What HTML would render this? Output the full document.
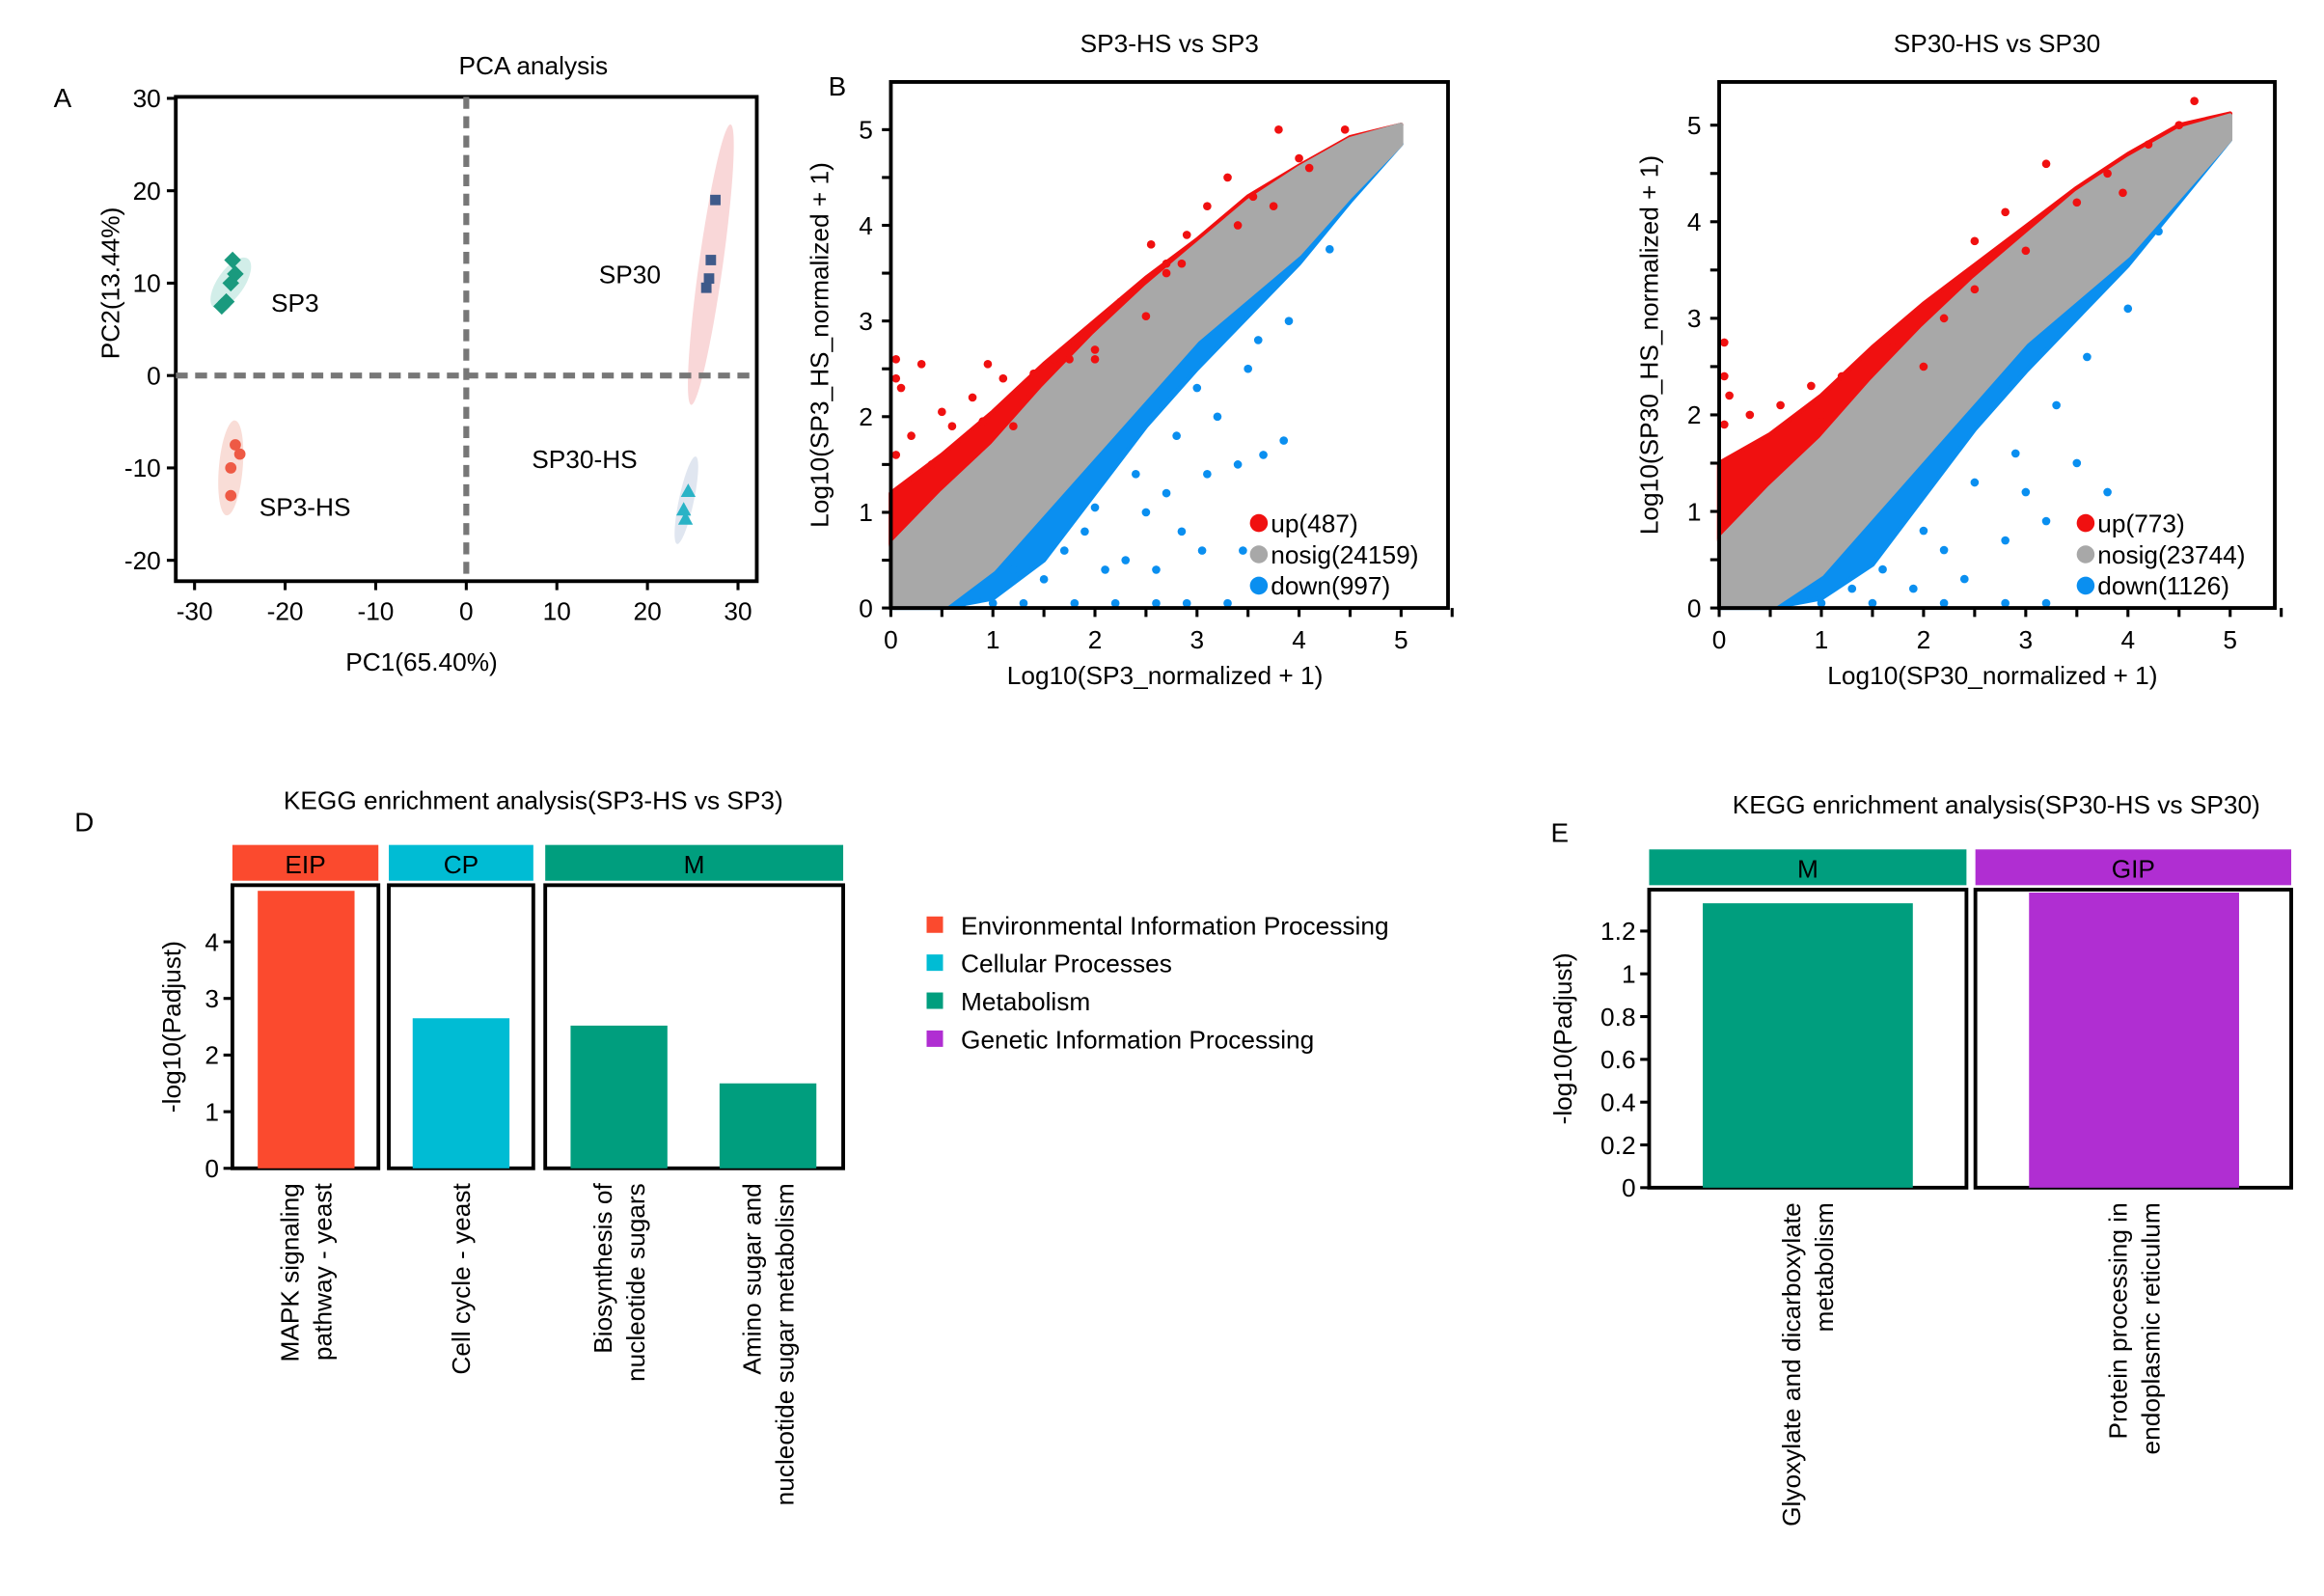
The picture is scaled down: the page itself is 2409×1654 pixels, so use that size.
<!DOCTYPE html>
<html><head><meta charset="utf-8"><style>
html,body{margin:0;padding:0;background:#fff}
svg{display:block;font-family:"Liberation Sans",Arial,sans-serif}
</style></head><body>
<svg id="root" xmlns="http://www.w3.org/2000/svg" width="2409" height="1654" viewBox="0 0 1560 1071" preserveAspectRatio="none">
<rect width="1560" height="1071" fill="#fff"/>
<g id="gA"></g>
<g id="gB"></g>
<g id="gC"></g>
<g id="gD"></g>
<g id="gE"></g>
</svg>
<script>
// ---------- PCA data ----------
const pcaGroups = ["SP3","SP3-HS","SP30","SP30-HS"];
const pcaSP3 = [[-26.5,8],[-27,7.5],[-25.5,11],[-25.8,12.5],[-26,10]];
const pcaSP3HS = [[-25.5,-7.5],[-25,-8.5],[-26,-10],[-26,-13]];
const pcaSP30 = [[27.5,19],[27,12.5],[26.8,10.5],[26.5,9.5]];
const pcaSP30HS = [[24.5,-12.5],[24,-14.5],[24.2,-15.5]];
const pcaTicksX = [-30,-20,-10,0,10,20,30];
const pcaTicksY = [-20,-10,0,10,20,30];
// ---------- Scatter data ----------
const bandX = [0,0.5,1,1.5,2,2.5,3,3.5,4,4.5,5];
const b_grayLo = [0,0,0.4,1.0,1.6,2.2,2.8,3.25,3.7,4.3,4.85];
const b_grayHi = [0.65,1.2,1.7,2.3,2.85,3.35,3.8,4.25,4.6,4.9,5.05];
const b_redHi = [1.2,1.6,2.05,2.55,3.0,3.45,3.85,4.3,4.62,4.92,5.05];
const b_blueLo = [0,0,0.1,0.5,1.2,1.9,2.5,3.05,3.6,4.25,4.85];
const b_redPts = [[0.05,2.6],[0.3,2.55],[0.95,2.55],[0.05,2.4],[0.1,2.3],[0.5,2.05],[0.8,2.2],[1.1,2.4],[1.4,2.45],[1.3,2.2],[1.6,2.6],[0.6,1.9],[0.2,1.8],[0.9,1.95],[1.75,2.6],[2.0,2.7],[2.25,3.2],[2.5,3.05],[2.55,3.8],[2.7,3.5],[2.85,3.6],[3.1,4.2],[3.3,4.5],[3.55,4.3],[3.8,5.0],[4.0,4.7],[4.1,4.6],[4.45,5.0],[3.75,4.2],[2.9,3.9],[2.7,3.6],[2.0,2.6],[3.4,4.0],[0.05,1.6],[0.05,1.2],[0.4,1.5],[1.2,1.9]];
const b_bluePts = [[3.65,1.6],[3.85,1.75],[3.4,1.5],[3.45,0.6],[3.05,0.6],[2.85,0.8],[2.6,0.4],[2.3,0.5],[1.9,0.8],[1.5,0.3],[3.3,0.05],[2.9,0.05],[2.6,0.05],[2.2,0.05],[1.8,0.05],[1.3,0.05],[1.0,0.05],[0.7,0.05],[4.3,3.75],[3.9,3.0],[2.0,1.05],[2.4,1.4],[2.8,1.8],[3.2,2.0],[3.5,2.5],[3.0,2.3],[2.5,1.0],[2.1,0.4],[1.7,0.6],[1.2,0.4],[2.7,1.2],[3.6,2.8],[3.1,1.4]];
const b_legend = ["up(487)","nosig(24159)","down(997)"];
const c_grayLo = [0,0,0.35,0.95,1.55,2.15,2.75,3.2,3.65,4.25,4.85];
const c_grayHi = [0.7,1.25,1.75,2.35,2.9,3.4,3.85,4.3,4.65,4.95,5.1];
const c_redHi = [1.5,1.8,2.2,2.7,3.15,3.55,3.95,4.35,4.7,5.0,5.12];
const c_blueLo = [0,0,0.1,0.45,1.15,1.85,2.45,3.0,3.55,4.2,4.85];
const c_redPts = [[0.05,2.75],[0.05,2.4],[0.1,2.2],[0.3,2.0],[0.6,2.1],[0.9,2.3],[1.2,2.4],[1.5,2.5],[1.9,2.9],[2.2,3.0],[2.5,3.3],[2.8,4.1],[3.2,4.6],[3.8,4.5],[4.2,4.8],[4.5,5.0],[4.65,5.25],[3.95,4.3],[2.5,3.8],[3.0,3.7],[3.5,4.2],[1.0,2.0],[0.4,1.7],[0.05,1.9],[1.7,2.7],[2.0,2.5]];
const c_bluePts = [[3.2,0.9],[2.8,0.7],[2.4,0.3],[1.9,0.2],[3.5,1.5],[3.8,1.2],[1.0,0.05],[1.5,-0.05],[2.2,-0.05],[2.8,-0.05],[3.2,-0.05],[4.3,3.9],[4.0,3.1],[2.0,0.8],[2.5,1.3],[2.9,1.6],[3.3,2.1],[3.6,2.6],[2.2,0.6],[1.6,0.4],[3.0,1.2],[1.3,0.2]];
const c_legend = ["up(773)","nosig(23744)","down(1126)"];
// ---------- KEGG D ----------
const dFacets = ["EIP","CP","M"];
const dCats = ["MAPK signaling|pathway - yeast","Cell cycle - yeast","Biosynthesis of|nucleotide sugars","Amino sugar and|nucleotide sugar metabolism"];
const dValues = [4.9,2.65,2.52,1.5];
const dTicks = [0,1,2,3,4];
// ---------- KEGG E ----------
const eFacets = ["M","GIP"];
const eCats = ["Glyoxylate and dicarboxylate|metabolism","Protein processing in|endoplasmic reticulum"];
const eValues = [1.33,1.38];
const eTicks = [0,0.2,0.4,0.6,0.8,1,1.2];
const legendLabels = ["Environmental Information Processing","Cellular Processes","Metabolism","Genetic Information Processing"];

const NS="http://www.w3.org/2000/svg";
function mk(parent,tag,attrs,text){const e=document.createElementNS(NS,tag);for(const k in attrs)e.setAttribute(k,attrs[k]);if(text!==undefined)e.textContent=text;parent.appendChild(e);return e;}

// ===== Panel A =====
(function(){
const g=document.getElementById('gA');
const sx=v=>313+v*6.08, sy=v=>252-v*6.2;
let t=mk(g,'text',{x:36,y:72,'font-size':18});t.textContent='A';

t=mk(g,'text',{x:358,y:50,'font-size':17,'text-anchor':'middle'},'PCA analysis');

const ell=[[sx(-26),sy(10),9,20,35,'#bfe7df'],[sx(-26),sy(-10),8,32,5,'#f7cfc6'],[sx(27),sy(12),8,95,8,'#f6c6c8'],[sx(24.3),sy(-13.5),5,30,12,'#d3dbe9']];
ell.forEach(e=>{const el=mk(g,'ellipse',{cx:e[0],cy:e[1],rx:e[2],ry:e[3],fill:e[5],opacity:0.7,transform:`rotate(${e[4]} ${e[0]} ${e[1]})`});
});
const box=mk(g,'rect',{x:118,y:65,width:390,height:325,fill:'none',stroke:'#000','stroke-width':2.5});

let l=mk(g,'line',{x1:sx(0),y1:65,x2:sx(0),y2:390,stroke:'#777','stroke-width':4,'stroke-dasharray':'8,5'});

l=mk(g,'line',{x1:118,y1:sy(0),x2:508,y2:sy(0),stroke:'#777','stroke-width':4,'stroke-dasharray':'8,5'});

pcaTicksX.forEach(v=>{mk(g,'line',{x1:sx(v),y1:390,x2:sx(v),y2:396,stroke:'#000','stroke-width':2});
const tt=mk(g,'text',{x:sx(v),y:416,'font-size':17,'text-anchor':'middle'},v);});
pcaTicksY.forEach(v=>{mk(g,'line',{x1:112,y1:sy(v),x2:118,y2:sy(v),stroke:'#000','stroke-width':2});
const tt=mk(g,'text',{x:108,y:sy(v)+6,'font-size':17,'text-anchor':'end'},v);});
t=mk(g,'text',{x:283,y:450,'font-size':17,'text-anchor':'middle'},'PC1(65.40%)');
t=mk(g,'text',{x:80,y:190,'font-size':17,'text-anchor':'middle',transform:'rotate(-90 80 190)'},'PC2(13.44%)');
pcaSP3.forEach(p=>{const m=mk(g,'rect',{x:sx(p[0])-4,y:sy(p[1])-4,width:8,height:8,fill:'#1a9a7e',transform:`rotate(45 ${sx(p[0])} ${sy(p[1])})`});});
pcaSP3HS.forEach(p=>{const m=mk(g,'circle',{cx:sx(p[0]),cy:sy(p[1]),r:3.8,fill:'#ee5a45'});});
pcaSP30.forEach(p=>{const m=mk(g,'rect',{x:sx(p[0])-3.5,y:sy(p[1])-3.5,width:7,height:7,fill:'#3f5a8a'});});
pcaSP30HS.forEach(p=>{const x=sx(p[0]),y=sy(p[1]);const m=mk(g,'polygon',{points:`${x},${y-5} ${x-5},${y+4} ${x+5},${y+4}`,fill:'#2ab3c6'});});
[['SP3',182,209],['SP3-HS',174,346],['SP30',402,190],['SP30-HS',357,314]].forEach(a=>{const tt=mk(g,'text',{x:a[1],y:a[2],'font-size':17},a[0]);});
})();

// ===== Scatter panels =====
function scatter(gid,x0,xUnit,y0,yUnit,right,title,xl,yl,lo,hi,rHi,bLo,rp,bp,leg,yLabX){
const g=document.getElementById(gid);
const sx=v=>x0+v*xUnit, sy=v=>y0-v*yUnit;
const top=55;
let t=mk(g,'text',{x:(x0+right)/2,y:35,'font-size':17,'text-anchor':'middle'},title);
function poly(upper,lower,col,name){let pts=[];bandX.forEach((x,i)=>pts.push(sx(x)+','+sy(Math.min(upper[i],5.4))));for(let i=bandX.length-1;i>=0;i--)pts.push(sx(bandX[i])+','+sy(lower[i]));
const p=mk(g,'polygon',{points:pts.join(' '),fill:col,stroke:col,'stroke-width':3,'stroke-linejoin':'round'});}
poly(rHi,hi,'#f01010','up-cloud');
poly(lo,bLo,'#0a8ff0','down-cloud');
poly(hi,lo,'#a8a8a8','nosig-band');
rp.forEach(p=>{const c=mk(g,'circle',{cx:sx(p[0]),cy:sy(p[1]),r:2.8,fill:'#f01010'});});
bp.forEach(p=>{const c=mk(g,'circle',{cx:sx(p[0]),cy:sy(Math.max(p[1],0.05)),r:2.8,fill:'#0a8ff0'});});
const f=mk(g,'path',{d:`M${x0},${top} L${right},${top} L${right},${y0} L${x0},${y0} Z`,fill:'none',stroke:'#000','stroke-width':2.5});
for(let v=0;v<=5.5;v+=0.5){mk(g,'line',{x1:sx(v),y1:y0,x2:sx(v),y2:y0+6,stroke:'#000','stroke-width':2});}
for(let v=0;v<=5;v++){const tt=mk(g,'text',{x:sx(v),y:y0+27,'font-size':17,'text-anchor':'middle'},v);}
for(let v=0;v<=5;v+=0.5){if(sy(v)<top)continue;mk(g,'line',{x1:x0-6,y1:sy(v),x2:x0,y2:sy(v),stroke:'#000','stroke-width':2});}
for(let v=0;v<=5;v++){const tt=mk(g,'text',{x:x0-12,y:sy(v)+6,'font-size':17,'text-anchor':'end'},v);}
t=mk(g,'text',{x:(x0+right)/2-3,y:y0+51,'font-size':17,'text-anchor':'middle'},xl);
t=mk(g,'text',{x:yLabX,y:(top+y0)/2,'font-size':17,'text-anchor':'middle',transform:`rotate(-90 ${yLabX} ${(top+y0)/2})`},yl);
const cols=['#f01010','#a8a8a8','#0a8ff0'];
leg.forEach((s,i)=>{const ly=y0-57+i*21;const c=mk(g,'circle',{cx:right-127,cy:ly,r:6,fill:cols[i]});
const tt=mk(g,'text',{x:right-119,y:ly+6,'font-size':17},s);});
}
scatter('gB',598,68.5,408,64.2,972,'SP3-HS vs SP3','Log10(SP3_normalized + 1)','Log10(SP3_HS_normalized + 1)',b_grayLo,b_grayHi,b_redHi,b_blueLo,b_redPts,b_bluePts,b_legend,556);
scatter('gC',1154,68.6,408,64.8,1527,'SP30-HS vs SP30','Log10(SP30_normalized + 1)','Log10(SP30_HS_normalized + 1)',c_grayLo,c_grayHi,c_redHi,c_blueLo,c_redPts,c_bluePts,c_legend,1113);
(function(){const g=document.getElementById('gB');const t=mk(g,'text',{x:556,y:64,'font-size':18},'B');})();

// ===== KEGG bars =====
const facetCol={EIP:'#fb4a2e',CP:'#00bcd4',M:'#009e7e',GIP:'#b02ed2'};
function kegg(gid,title,tx,ty,facets,facetX,cats,vals,barX,barW,y0,unit,top,ticks,ylab,ylx,fy){
const g=document.getElementById(gid);
let t=mk(g,'text',{x:tx,y:ty,'font-size':17,'text-anchor':'middle'},title);
facets.forEach((f,i)=>{const r=mk(g,'rect',{x:facetX[i][0],y:fy,width:facetX[i][1]-facetX[i][0],height:24,fill:facetCol[f]});
const tt=mk(g,'text',{x:(facetX[i][0]+facetX[i][1])/2,y:fy+19,'font-size':17,'text-anchor':'middle'},f);
const b=mk(g,'rect',{x:facetX[i][0],y:top,width:facetX[i][1]-facetX[i][0],height:y0-top,fill:'none',stroke:'#000','stroke-width':2.5});});
cats.forEach((c,i)=>{const h=vals[i]*unit;const f=barX[i][1];
const r=mk(g,'rect',{x:barX[i][0],y:y0-h,width:barW,height:h,fill:facetCol[f]});
const lines=c.split('|');const cx=barX[i][0]+barW/2;
lines.forEach((ln,j)=>{const x=cx+(j-(lines.length-1)/2)*22+6;const tt=mk(g,'text',{x:x,y:y0+10,'font-size':17,'text-anchor':'end',transform:`rotate(-90 ${x} ${y0+10})`},ln);});});
ticks.forEach(v=>{mk(g,'line',{x1:facetX[0][0]-6,y1:y0-v*unit,x2:facetX[0][0],y2:y0-v*unit,stroke:'#000','stroke-width':2});
const tt=mk(g,'text',{x:facetX[0][0]-9,y:y0-v*unit+6,'font-size':17,'text-anchor':'end'},v.toString());});
t=mk(g,'text',{x:ylx,y:(top+y0)/2,'font-size':17,'text-anchor':'middle',transform:`rotate(-90 ${ylx} ${(top+y0)/2})`},ylab);
}
kegg('gD','KEGG enrichment analysis(SP3-HS vs SP3)',358,543,dFacets,[[156,254],[261,358],[366,566]],dCats,dValues,[[173,'EIP'],[277,'CP'],[383,'M'],[483,'M']],65,784,38,594,dTicks,'-log10(Padjust)',121,567);
kegg('gE','KEGG enrichment analysis(SP30-HS vs SP30)',1340,546,eFacets,[[1107,1320],[1326,1538]],eCats,eValues,[[1143,'M'],[1362,'GIP']],141,797,143.5,597,eTicks,'-log10(Padjust)',1055,570);
(function(){
const gd=document.getElementById('gD');
let t=mk(gd,'text',{x:50,y:558,'font-size':18},'D');
const ge=document.getElementById('gE');
t=mk(ge,'text',{x:1041,y:565,'font-size':18},'E');
const cols=['#fb4a2e','#00bcd4','#009e7e','#b02ed2'];
legendLabels.forEach((s,i)=>{const y=621+i*25.5;const r=mk(gd,'rect',{x:622,y:y-6,width:11,height:11,fill:cols[i]});
const tt=mk(gd,'text',{x:645,y:y+6,'font-size':17},s);});
})();
</script>
</body></html>
